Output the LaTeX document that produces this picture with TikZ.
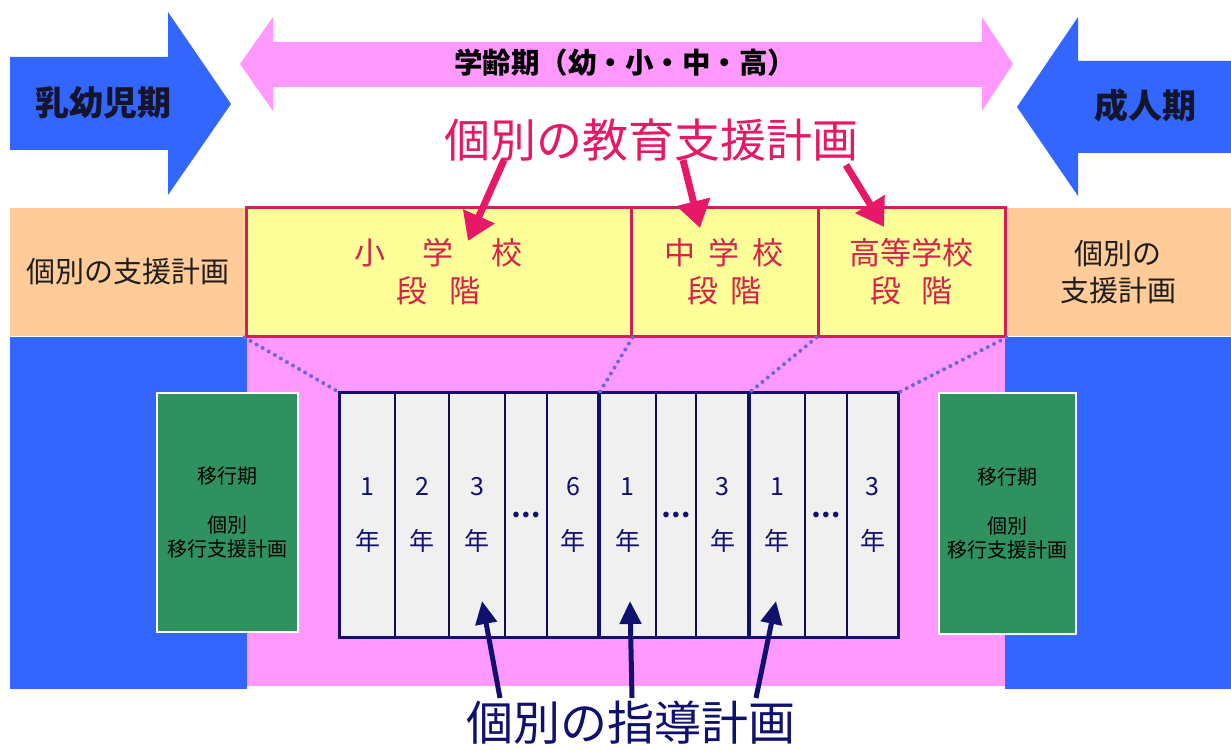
\documentclass[tikz,border=0pt]{standalone}
\usepackage{fontspec}
\newfontfamily\cjk{Noto Sans CJK JP}
\usetikzlibrary{arrows.meta}
\definecolor{myblue}{RGB}{51,102,255}
\definecolor{mypink}{RGB}{255,153,255}
\definecolor{myorange}{RGB}{255,204,153}
\definecolor{myyellow}{RGB}{255,255,153}
\definecolor{mycrimson}{RGB}{210,30,90}
\definecolor{myred}{RGB}{232,24,104}
\definecolor{myyeltext}{RGB}{215,35,75}
\definecolor{mygreen}{RGB}{46,145,95}
\definecolor{mynavy}{RGB}{16,16,110}
\definecolor{mydot}{RGB}{110,100,225}
\definecolor{mygray}{RGB}{240,240,240}
\definecolor{mytext}{RGB}{30,30,30}
\definecolor{mydark}{RGB}{20,20,45}
\newcommand{\myfs}[2]{\fontsize{#1}{#2}\selectfont}
\tikzset{
  orangebox/.style={fill=myorange, draw=none, inner sep=0pt, minimum height=128pt, align=center, text=mytext, font={\cjk\myfs{29}{37}}},
  yellowbox/.style={fill=myyellow, draw=mycrimson, line width=3pt, inner sep=0pt, minimum height=128pt, align=center, text=myyeltext, font={\cjk\myfs{31}{38}}},
  greenbox/.style={fill=mygreen, draw=white, line width=1.5pt, inner sep=0pt, align=center, text=black, font={\cjk\myfs{20}{24.5}}},
  gradecol/.style={fill=mygray, draw=mynavy!80!black, line width=1.2pt, inner sep=0pt, minimum height=244pt, align=center, text=mynavy, font={\cjk\myfs{25}{55}}},
  dotcol/.style={gradecol, font={\cjk\bfseries\myfs{26}{30}}},
  groupframe/.style={draw=mynavy, line width=3.5pt},
  redarrow/.style={draw=myred, line width=7pt, -{Triangle[width=33pt,length=27pt]}},
  navyarrow/.style={draw=mynavy, line width=5pt, -{Triangle[width=21pt,length=23pt]}},
  dotline/.style={draw=mydot, line width=4pt, line cap=round, dash pattern=on 0pt off 7pt},
  lbl/.style={inner sep=0pt}
}
\begin{document}
\begin{tikzpicture}[x=1pt,y=-1pt]
\useasboundingbox (0,0) rectangle (1231,751);
\fill[white] (0,0) rectangle (1231,751);

% top arrows
\fill[myblue] (10,57) -- (168,57) -- (168,12) -- (231,104) -- (168,195) -- (168,150) -- (10,150) -- cycle;
\fill[myblue] (1231,61) -- (1078,61) -- (1078,17) -- (1017,107) -- (1078,196) -- (1078,153) -- (1231,153) -- cycle;
\fill[mypink] (240,64) -- (273,17) -- (273,42) -- (982,42) -- (982,17) -- (1013,64) -- (982,111) -- (982,87) -- (273,87) -- (273,111) -- cycle;

\node[lbl, text=mydark, font={\cjk\bfseries\myfs{34}{40}}] (infant) at (103,103) {乳幼児期};
\node[lbl, text=mydark, font={\cjk\bfseries\myfs{34}{40}}] (adult) at (1145,106) {成人期};
\node[lbl, text=black, font={\cjk\bfseries\myfs{28.5}{32}}] (school) at (625,63) {学齢期（幼・小・中・高）};

\node[lbl, text=myred, font={\cjk\myfs{46}{52}}] (iep) at (651,140) {個別の教育支援計画};

% support plan row
\node[orangebox, minimum width=236pt] (supL) at (128,272) {個別の支援計画};
\node[orangebox, minimum width=226pt] (supR) at (1118,272) {個別の\\支援計画};

% lower regions
\fill[myblue] (10,337) rectangle (247,689);
\fill[myblue] (1005,337) rectangle (1231,689);
\fill[mypink] (247,337) rectangle (1005,686);

% school stage boxes
\node[yellowbox, minimum width=385pt] (elem) at (438.5,272) {小\hspace{1.2em}学\hspace{1.2em}校\\段\hspace{0.68em}階};
\node[yellowbox, minimum width=187pt] (junior) at (724.5,272) {中\hspace{0.42em}学\hspace{0.42em}校\\段\hspace{0.4em}階};
\node[yellowbox, minimum width=187pt] (high) at (911.5,272) {高等学校\\段\hspace{0.65em}階};

% transition boxes
\node[greenbox, minimum width=141pt, minimum height=239pt] (transL) at (227.5,512.5) {移行期\\[24.5pt]個別\\移行支援計画};
\node[greenbox, minimum width=137pt, minimum height=241pt] (transR) at (1007.5,513.5) {移行期\\[24.5pt]個別\\移行支援計画};

% grade columns
\node[gradecol, minimum width=55pt] (c1) at (367.5,515) {1\\年};
\node[gradecol, minimum width=54pt] (c2) at (422,515) {2\\年};
\node[gradecol, minimum width=56pt] (c3) at (477,515) {3\\年};
\node[dotcol, minimum width=42pt] (c4) at (526,515) {…};
\node[gradecol, minimum width=52pt] (c5) at (573,515) {6\\年};
\node[gradecol, minimum width=57pt] (c6) at (627.5,515) {1\\年};
\node[dotcol, minimum width=40pt] (c7) at (676,515) {…};
\node[gradecol, minimum width=53pt] (c8) at (722.5,515) {3\\年};
\node[gradecol, minimum width=56pt] (c9) at (777,515) {1\\年};
\node[dotcol, minimum width=42pt] (c10) at (826,515) {…};
\node[gradecol, minimum width=51pt] (c11) at (872.5,515) {3\\年};
\draw[groupframe] (c1.north west) rectangle (c5.south east);
\draw[groupframe] (c6.north west) rectangle (c8.south east);
\draw[groupframe] (c9.north west) rectangle (c11.south east);

% dotted guide lines
\draw[dotline] (elem.south west) -- (c1.north west);
\draw[dotline] (elem.south east) -- (c5.north east);
\draw[dotline] (high.south west) -- (c8.north east);
\draw[dotline] (high.south east) -- (c11.north east);

% red arrows
\coordinate (r1s) at (504,160);
\coordinate (r1e) at (468,241);
\coordinate (r2s) at (683,160);
\coordinate (r2e) at (700,228);
\coordinate (r3s) at (846,165);
\coordinate (r3e) at (884,227);
\draw[redarrow] (r1s) -- (r1e);
\draw[redarrow] (r2s) -- (r2e);
\draw[redarrow] (r3s) -- (r3e);

% bottom label and arrows
\node[lbl, text=mynavy, font={\cjk\myfs{47}{52}}] (ind) at (631,723) {個別の指導計画};
\coordinate (b1s) at (500,698);
\coordinate (b1e) at (482,601);
\coordinate (b2s) at (632,698);
\coordinate (b2e) at (630,601);
\coordinate (b3s) at (756,698);
\coordinate (b3e) at (776,601);
\draw[navyarrow] (b1s) -- (b1e);
\draw[navyarrow] (b2s) -- (b2e);
\draw[navyarrow] (b3s) -- (b3e);
\end{tikzpicture}
\end{document}
